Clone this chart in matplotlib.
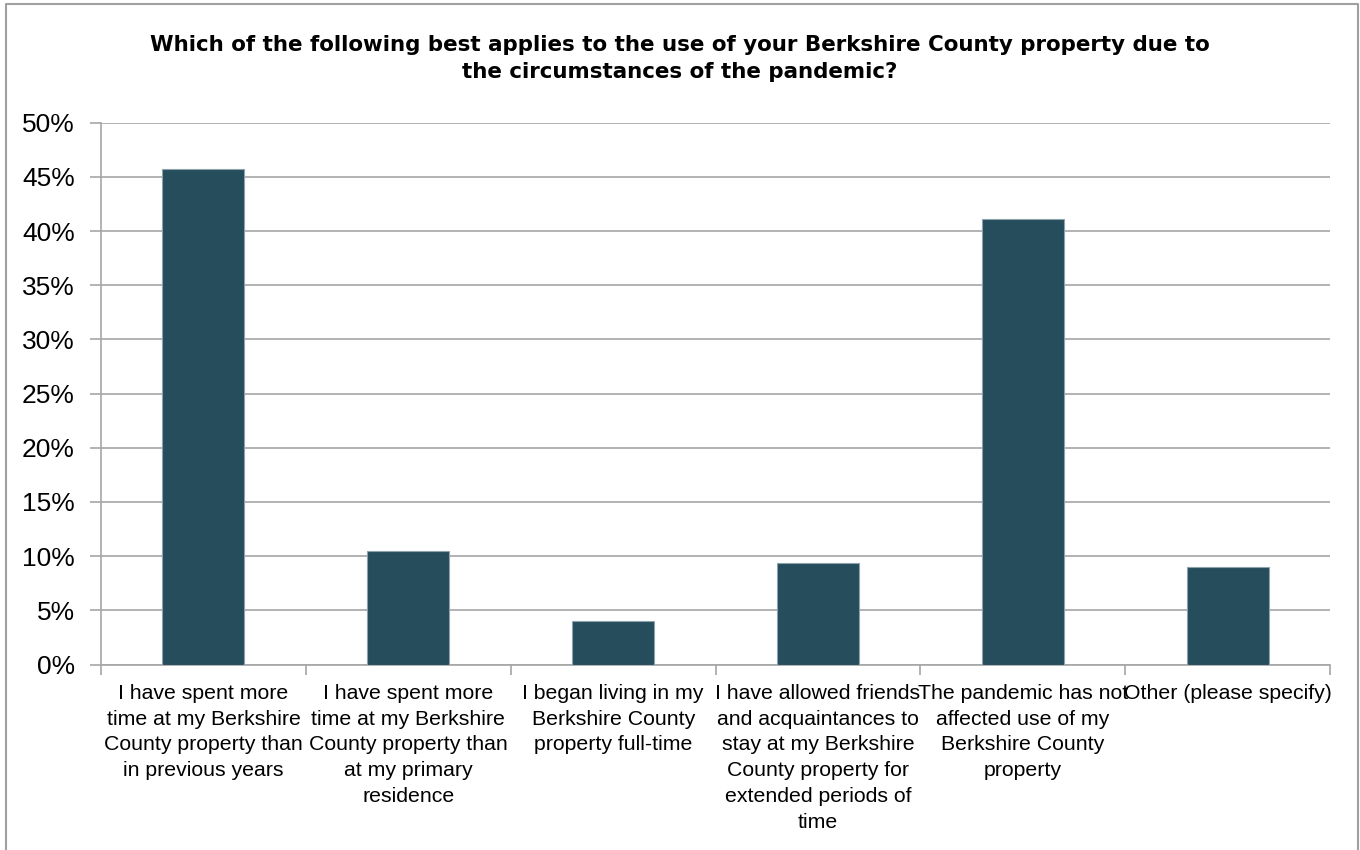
import matplotlib.pyplot as plt
from matplotlib.lines import Line2D
from matplotlib.ticker import FuncFormatter, MultipleLocator

categories = [
    "I have spent more\ntime at my Berkshire\nCounty property than\nin previous years",
    "I have spent more\ntime at my Berkshire\nCounty property than\nat my primary\nresidence",
    "I began living in my\nBerkshire County\nproperty full-time",
    "I have allowed friends\nand acquaintances to\nstay at my Berkshire\nCounty property for\nextended periods of\ntime",
    "The pandemic has not\naffected use of my\nBerkshire County\nproperty",
    "Other (please specify)",
]
percentages = [45.7, 10.5, 4.0, 9.4, 41.1, 9.0]

title = ("Which of the following best applies to the use of your Berkshire County property due to\n"
         "the circumstances of the pandemic?")

bar_color = "#264d5c"
grid_color = "#a6a6a6"
label_font = "Liberation Sans"

fig = plt.figure(figsize=(13.6, 8.5), dpi=100)
ax = fig.add_axes([0.0743, 0.2182, 0.9037, 0.6374])

x = list(range(len(categories)))
ax.bar(x, percentages, width=0.4, color=bar_color, edgecolor="#8ea2ac", linewidth=0.8, zorder=3)

ax.set_xlim(-0.5, len(categories) - 0.5)
ax.set_ylim(0, 50)
ax.yaxis.set_major_locator(MultipleLocator(5))
ax.yaxis.set_major_formatter(FuncFormatter(lambda v, _: f"{v:.0f}%"))
ax.grid(axis="y", color=grid_color, linewidth=1.2, zorder=0)
ax.set_axisbelow(True)

# category labels sit under the bars, tick marks sit between categories
ax.set_xticks(x)
ax.set_xticklabels(categories, fontsize=15.3, family=label_font, linespacing=1.45, va="top")
ax.set_xticks([i - 0.5 for i in range(len(categories) + 1)], minor=True)
ax.tick_params(axis="x", which="major", length=0, pad=14)
ax.tick_params(axis="x", which="minor", length=7, width=1.2, color=grid_color)
ax.tick_params(axis="y", length=8, width=1.2, color=grid_color, labelsize=19, pad=11)
for lbl in ax.get_yticklabels():
    lbl.set_family(label_font)

for side in ("top", "right"):
    ax.spines[side].set_visible(False)
for side in ("left", "bottom"):
    ax.spines[side].set_color(grid_color)
    ax.spines[side].set_linewidth(1.2)

fig.text(0.5, 1 - 35 / 850, title, ha="center", va="top", fontsize=15.4,
         fontweight="bold", family="DejaVu Sans", linespacing=1.45)

# outer chart frame (open at the bottom)
W, H = 1360, 850
frame_x = [5.5 / W, 5.5 / W, 1357.5 / W, 1357.5 / W]
frame_y = [0.0, 1 - 4 / H, 1 - 4 / H, 0.0]
fig.add_artist(Line2D(frame_x, frame_y, transform=fig.transFigure, color="#a0a0a0", linewidth=1.5))

fig.savefig("out.png", dpi=100, facecolor="white")
